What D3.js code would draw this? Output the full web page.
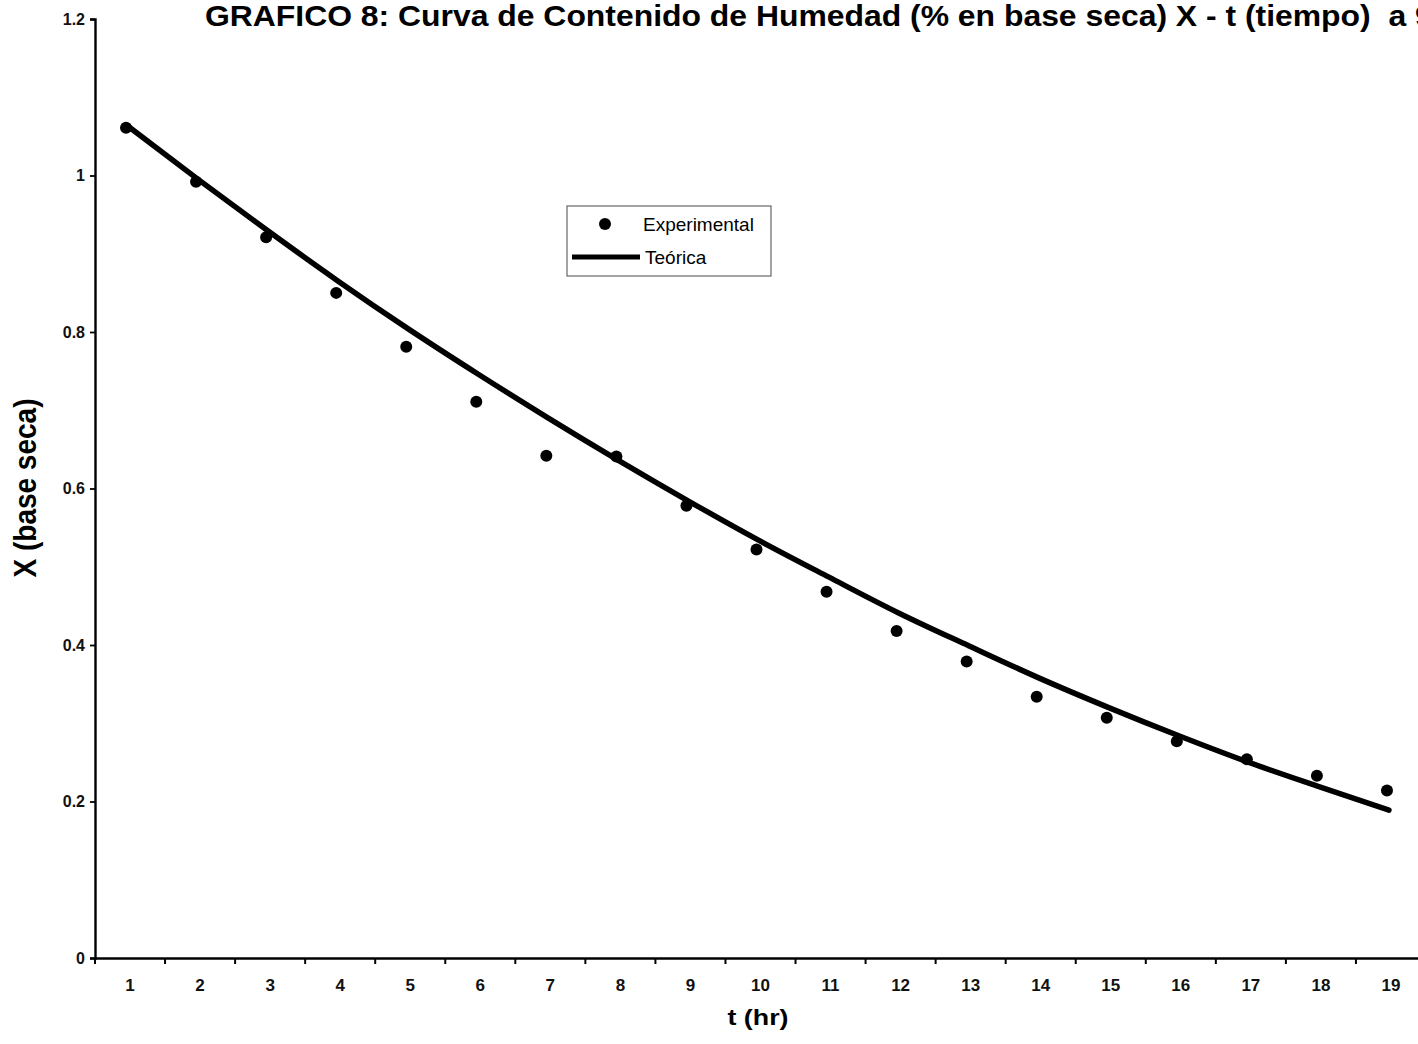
<!DOCTYPE html>
<html>
<head>
<meta charset="utf-8">
<script src="https://cdnjs.cloudflare.com/ajax/libs/d3/7.8.5/d3.min.js"></script>
<style>
  html, body { margin: 0; padding: 0; background: #fff; overflow: hidden; }
  svg { display: block; font-family: Arial, "Liberation Sans", sans-serif; }
</style>
</head>
<body>
<svg id="chart" width="1418" height="1044"></svg>
<script>
// Drying time, hours
const tiempo = [1, 2, 3, 4, 5, 6, 7, 8, 9, 10, 11, 12, 13, 14, 15, 16, 17, 18, 19];
// Measured moisture content X (dry basis)
const experimental = [1.061, 0.992, 0.921, 0.850, 0.781, 0.711, 0.642, 0.641, 0.578, 0.522,
                      0.468, 0.418, 0.379, 0.334, 0.307, 0.277, 0.254, 0.233, 0.214];
// Model curve X (dry basis)
const teorica = [1.063, 0.995, 0.929, 0.865, 0.804, 0.746, 0.690, 0.636, 0.584, 0.534,
                 0.487, 0.441, 0.399, 0.358, 0.320, 0.284, 0.250, 0.219, 0.189];
const yTicks = [0, 0.2, 0.4, 0.6, 0.8, 1, 1.2];

const titulo = "GRAFICO 8: Curva de Contenido de Humedad (% en base seca) X - t (tiempo)\u00a0\u00a0a 9";
const ejeX = "t (hr)";
const ejeY = "X (base seca)";
const serieNombres = ["Experimental", "Teórica"];

const FONT = "Arial, 'Liberation Sans', sans-serif";
const svg = d3.select("#chart");

const x = d3.scaleBand().domain(tiempo).range([95, 1426]).padding(0);
const y = d3.scaleLinear().domain([0, 1.2]).range([958, 19]);
const cx = i => x(tiempo[i]) + x.bandwidth() / 2 - 2;

// Y axis
const yAxis = svg.append("g")
  .attr("transform", `translate(${x.range()[0]},0)`)
  .call(d3.axisLeft(y).tickValues(yTicks).tickSize(5).tickPadding(5)
        .tickFormat(d => String(+d.toFixed(1))));
yAxis.select(".domain").attr("stroke", "#000").attr("stroke-width", 2.4);
yAxis.selectAll(".tick line").attr("stroke", "#000").attr("stroke-width", 1.8);
yAxis.selectAll(".tick text").attr("font-size", 16).attr("font-weight", "bold")
  .attr("fill", "#111").attr("font-family", FONT);

// X axis: labels at category centres, tick marks at category boundaries
const xAxis = svg.append("g")
  .attr("transform", `translate(0,${y(0)})`)
  .call(d3.axisBottom(x).tickSize(0).tickPadding(21).tickSizeOuter(0));
xAxis.select(".domain").attr("stroke", "#000").attr("stroke-width", 2.4);
xAxis.selectAll(".tick text").attr("font-size", 17).attr("font-weight", "bold")
  .attr("fill", "#111").attr("font-family", FONT);

const bounds = tiempo.map(t => x(t)).concat([x.range()[1]]);
svg.append("g").selectAll("line").data(bounds).join("line")
  .attr("x1", d => d).attr("x2", d => d)
  .attr("y1", y(0)).attr("y2", y(0) + 6)
  .attr("stroke", "#000").attr("stroke-width", 2);

// Model curve
const linea = d3.line()
  .x((d, i) => cx(i))
  .y(d => y(d))
  .curve(d3.curveMonotoneX);
svg.append("path")
  .datum(teorica)
  .attr("d", linea)
  .attr("fill", "none")
  .attr("stroke", "#000")
  .attr("stroke-width", 5.5)
  .attr("stroke-linecap", "round")
  .attr("stroke-linejoin", "round");

// Measured points
svg.append("g").selectAll("circle").data(experimental).join("circle")
  .attr("cx", (d, i) => cx(i) - 2)
  .attr("cy", d => y(d))
  .attr("r", 6)
  .attr("fill", "#000");

// Title (slightly widened lettering)
svg.append("text")
  .attr("transform", "translate(205,26) scale(1.1,1)")
  .attr("font-size", 29).attr("font-weight", "bold").attr("fill", "#000")
  .style("white-space", "pre")
  .text(titulo);

// Axis titles
svg.append("text")
  .attr("transform", `translate(758,1025) scale(1.22,1)`)
  .attr("text-anchor", "middle")
  .attr("font-size", 22).attr("font-weight", "bold").attr("fill", "#000")
  .text(ejeX);

svg.append("text")
  .attr("transform", `translate(36,488) scale(1.1,1) rotate(-90)`)
  .attr("text-anchor", "middle")
  .attr("font-size", 28).attr("font-weight", "bold").attr("fill", "#000")
  .text(ejeY);

// Legend
const leg = svg.append("g").attr("transform", "translate(567,206)");
leg.append("rect")
  .attr("width", 204).attr("height", 70)
  .attr("fill", "#fff").attr("stroke", "#666").attr("stroke-width", 1.2);
leg.append("circle").attr("cx", 38).attr("cy", 18).attr("r", 6).attr("fill", "#000");
leg.append("text").attr("x", 76).attr("y", 25)
  .attr("font-size", 19).attr("fill", "#000").text(serieNombres[0]);
leg.append("line").attr("x1", 5).attr("x2", 73).attr("y1", 51).attr("y2", 51)
  .attr("stroke", "#000").attr("stroke-width", 5);
leg.append("text").attr("x", 78).attr("y", 58)
  .attr("font-size", 19).attr("fill", "#000").text(serieNombres[1]);
</script>
</body>
</html>
